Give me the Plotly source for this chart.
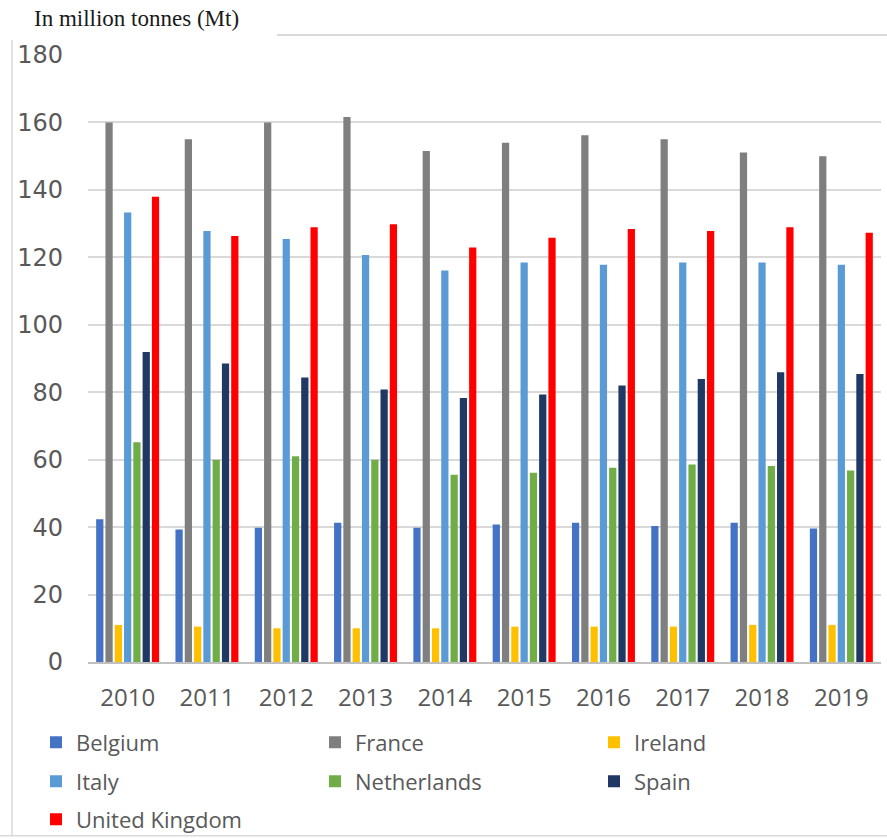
import plotly.graph_objects as go

years = ["2010", "2011", "2012", "2013", "2014", "2015", "2016", "2017", "2018", "2019"]

belgium = [42.3, 39.3, 39.8, 41.3, 39.8, 40.8, 41.3, 40.3, 41.3, 39.6]
france = [160.0, 155.0, 160.0, 161.6, 151.5, 154.0, 156.2, 155.0, 151.1, 150.0]
ireland = [11.0, 10.5, 10.0, 10.0, 10.0, 10.5, 10.5, 10.5, 11.0, 11.0]
italy = [133.3, 127.8, 125.4, 120.7, 116.1, 118.5, 117.8, 118.5, 118.5, 117.8]
netherlands = [65.2, 60.0, 61.0, 60.0, 55.5, 56.1, 57.6, 58.6, 58.1, 56.8]
spain = [91.9, 88.5, 84.4, 80.8, 78.3, 79.3, 82.0, 83.9, 85.9, 85.4]
united_kingdom = [138.0, 126.3, 128.9, 129.8, 122.9, 125.8, 128.4, 127.8, 128.9, 127.3]

series = [
    ("Belgium", belgium, "#4472C4", "legend"),
    ("France", france, "#7F7F7F", "legend"),
    ("Ireland", ireland, "#FFC000", "legend"),
    ("Italy", italy, "#5B9BD5", "legend2"),
    ("Netherlands", netherlands, "#70AD47", "legend2"),
    ("Spain", spain, "#1F3864", "legend2"),
    ("United Kingdom", united_kingdom, "#FF0000", "legend3"),
]

yticks = [0, 20, 40, 60, 80, 100, 120, 140, 160, 180]

fig = go.Figure()
for name, vals, color, leg in series:
    fig.add_trace(go.Bar(x=years, y=vals, name=name, marker_color=color,
                         marker_line_width=0, legend=leg))

W, H = 887, 839
L, R, T, B = 88, 6, 55, 176.5
pw, ph = W - L - R, H - T - B


def px(x):
    return (x - L) / pw


def py(y):
    return (H - B - y) / ph


def legend_row(top):
    return dict(
        orientation="h", x=px(36), y=py(top), xanchor="left", yanchor="top",
        font=dict(family="Open Sans", size=22, color="#595959"),
        entrywidth=234, entrywidthmode="pixels",
        itemwidth=30, traceorder="normal",
        bgcolor="rgba(0,0,0,0)",
    )


fig.update_layout(
    width=W, height=H,
    margin=dict(l=L, r=R, t=T, b=B, pad=0, autoexpand=False),
    paper_bgcolor="white", plot_bgcolor="white",
    barmode="group", bargap=0.18, bargroupgap=0.22,
    font=dict(family="Open Sans", color="#595959"),
    showlegend=True,
    legend=legend_row(722),
    legend2=legend_row(761),
    legend3=legend_row(799),
    annotations=[
        dict(text="In million tonnes (Mt)", xref="paper", yref="paper",
             x=px(32), y=py(18), xanchor="left", yanchor="middle",
             showarrow=False,
             font=dict(family="Liberation Serif", size=23, color="#1a1a1a")),
    ],
    shapes=[
        dict(type="line", xref="paper", yref="paper", x0=px(12), x1=px(12),
             y0=py(40), y1=py(836), line=dict(color="#d9d9d9", width=1.5)),
        dict(type="line", xref="paper", yref="paper", x0=px(277), x1=px(887),
             y0=py(35), y1=py(35), line=dict(color="#d9d9d9", width=2)),
        dict(type="line", xref="paper", yref="paper", x0=px(0), x1=px(887),
             y0=py(836.5), y1=py(836.5), line=dict(color="#d9d9d9", width=1.5)),
    ],
)

fig.update_xaxes(
    type="category", showgrid=False, showline=True, linecolor="#bfbfbf",
    linewidth=1.5, ticks="", ticklabelstandoff=13,
    tickfont=dict(family="Open Sans", size=24, color="#595959"),
)
fig.update_yaxes(
    range=[0, 180], tickvals=yticks, showgrid=True, gridcolor="#d9d9d9",
    gridwidth=1.5, zeroline=False, showline=False, ticks="",
    ticklabelstandoff=24,
    tickfont=dict(family="DejaVu Sans", size=24, color="#595959"),
)

fig.write_html("out.html")
